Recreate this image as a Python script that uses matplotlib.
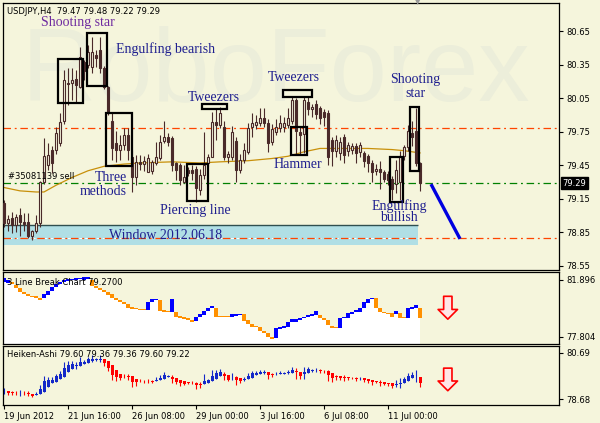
import numpy as np
import matplotlib
matplotlib.use('Agg')
import matplotlib.pyplot as plt
import matplotlib.transforms as mtransforms
from matplotlib.patches import Rectangle

plt.rcParams['font.family'] = ['DejaVu Sans']

# USDJPY H4 свечи (O, H, L, C)
opens = [79.11, 78.93, 78.98, 78.91, 79.00, 78.94, 78.94, 78.82, 78.86, 78.93,
         79.30, 79.45, 79.59, 79.59, 79.65, 79.85, 80.19, 80.19, 80.22, 80.15,
         80.37, 80.35, 80.33, 80.44, 80.48, 80.32, 80.15, 79.85, 79.65, 79.59,
         79.63, 79.72, 79.52, 79.34, 79.48, 79.46, 79.39, 79.40, 79.47, 79.51,
         79.67, 79.70, 79.69, 79.47, 79.45, 79.30, 79.41, 79.41, 79.42, 79.23,
         79.36, 79.47, 79.52, 79.84, 79.81, 79.79, 79.52, 79.52, 79.67, 79.41,
         79.50, 79.57, 79.79, 79.81, 79.83, 79.87, 79.83, 79.66, 79.75, 79.78,
         79.79, 79.81, 79.85, 80.03, 79.75, 79.73, 80.02, 79.95, 80.00, 79.96,
         79.93, 79.92, 79.68, 79.58, 79.56, 79.70, 79.58, 79.59, 79.62, 79.57,
         79.56, 79.53, 79.47, 79.40, 79.42, 79.39, 79.37, 79.33, 79.28, 79.30,
         79.53, 79.61, 79.74, 79.76, 79.47]
highs = [79.14, 79.00, 79.03, 79.01, 79.07, 79.02, 79.02, 78.87, 79.00, 79.31,
         79.69, 79.65, 79.62, 79.79, 79.92, 80.30, 80.32, 80.32, 80.30, 80.51,
         80.39, 80.53, 80.60, 80.48, 80.60, 80.34, 80.16, 79.92, 79.76, 79.72,
         79.78, 79.78, 79.59, 79.54, 79.54, 79.53, 79.55, 79.50, 79.66, 79.72,
         79.85, 79.74, 79.71, 79.48, 79.47, 79.45, 79.43, 79.45, 79.44, 79.42,
         79.75, 79.55, 79.93, 79.96, 79.97, 79.85, 79.58, 79.80, 79.70, 79.55,
         79.65, 79.83, 79.92, 79.90, 79.96, 79.96, 79.86, 79.82, 79.86, 79.90,
         79.88, 79.96, 80.06, 80.05, 79.79, 80.07, 80.06, 80.00, 80.03, 79.98,
         79.95, 79.94, 79.70, 79.72, 79.70, 79.73, 79.66, 79.65, 79.65, 79.66,
         79.58, 79.55, 79.50, 79.46, 79.49, 79.41, 79.40, 79.35, 79.50, 79.58,
         79.63, 79.81, 79.85, 79.96, 79.48]
lows = [78.90, 78.86, 78.84, 78.85, 78.82, 78.86, 78.80, 78.78, 78.84, 78.90,
        79.28, 79.41, 79.38, 79.55, 79.62, 79.82, 79.99, 80.03, 80.01, 80.14,
        80.21, 80.32, 80.28, 80.33, 80.28, 80.13, 79.90, 79.50, 79.48, 79.50,
        79.59, 79.50, 79.21, 79.27, 79.41, 79.40, 79.39, 79.37, 79.45, 79.50,
        79.65, 79.62, 79.40, 79.32, 79.27, 79.29, 79.35, 79.32, 79.12, 79.18,
        79.33, 79.44, 79.52, 79.68, 79.78, 79.50, 79.47, 79.50, 79.30, 79.38,
        79.47, 79.55, 79.70, 79.77, 79.80, 79.79, 79.57, 79.63, 79.72, 79.75,
        79.75, 79.78, 79.82, 79.54, 79.55, 79.56, 79.90, 79.88, 79.86, 79.82,
        79.80, 79.45, 79.44, 79.52, 79.50, 79.47, 79.53, 79.55, 79.47, 79.52,
        79.43, 79.39, 79.30, 79.36, 79.24, 79.30, 79.27, 79.14, 79.20, 79.14,
        79.50, 79.58, 79.62, 79.44, 79.22]
closes = [78.93, 78.97, 78.91, 78.99, 78.94, 78.92, 78.82, 78.86, 78.93, 79.30,
          79.53, 79.54, 79.47, 79.74, 79.84, 80.21, 80.18, 80.21, 80.17, 80.42,
          80.29, 80.46, 80.46, 80.41, 80.32, 80.15, 79.92, 79.60, 79.59, 79.63,
          79.72, 79.59, 79.34, 79.48, 79.46, 79.49, 79.51, 79.48, 79.52, 79.66,
          79.70, 79.66, 79.45, 79.41, 79.32, 79.34, 79.38, 79.38, 79.25, 79.36,
          79.45, 79.52, 79.84, 79.81, 79.92, 79.52, 79.55, 79.75, 79.41, 79.50,
          79.59, 79.78, 79.83, 79.84, 79.87, 79.83, 79.65, 79.77, 79.79, 79.83,
          79.83, 79.87, 80.03, 79.76, 79.72, 80.03, 79.95, 79.97, 79.91, 79.87,
          79.88, 79.52, 79.58, 79.68, 79.66, 79.54, 79.63, 79.62, 79.56, 79.63,
          79.49, 79.47, 79.39, 79.42, 79.39, 79.33, 79.32, 79.24, 79.41, 79.53,
          79.61, 79.76, 79.70, 79.47, 79.29]

# скользящая средняя (точки)
ma_idx = [0, 4, 8, 10, 13, 17, 21, 25, 30, 34, 42, 49, 54, 61, 67, 71, 75, 79, 85, 91, 97, 100, 104]
ma_val = [79.25, 79.22, 79.21, 79.21, 79.27, 79.34, 79.40, 79.44, 79.46, 79.47, 79.48, 79.47,
          79.48, 79.49, 79.51, 79.53, 79.57, 79.60, 79.60, 79.60, 79.59, 79.58, 79.56]

# 3 Line Break: верх/низ кирпича и направление
lb_hi = [82.04, 81.90, 81.75, 81.54, 81.32, 81.03, 80.89, 80.75, 80.75, 80.60,
         80.89, 81.11, 81.39, 81.61, 81.75, 81.90, 81.97, 81.97, 82.04, 82.04,
         82.11, 82.11, 81.90, 81.47, 81.32, 81.18, 81.03, 80.89, 80.60, 80.46,
         80.32, 80.17, 79.96, 79.89, 79.81, 79.81, 80.32, 80.53, 80.53, 80.46,
         79.74, 79.67, 80.53, 79.60, 79.31, 79.24, 79.17, 79.02, 79.24, 79.45,
         79.67, 79.89, 80.03, 79.89, 79.31, 79.31, 79.31, 79.45, 79.45, 79.45,
         79.45, 79.02, 78.74, 78.59, 78.53, 78.23, 78.09, 77.80, 78.45, 78.53,
         78.59, 78.88, 79.10, 79.10, 79.17, 79.24, 79.38, 79.45, 79.67, 79.38,
         79.17, 79.02, 78.59, 78.53, 79.17, 79.24, 79.53, 79.60, 79.74, 79.89,
         80.32, 80.53, 80.60, 80.60, 79.89, 79.60, 79.53, 79.53, 79.67, 79.53,
         79.24, 79.89, 79.96, 80.10, 79.89]
lb_lo = [81.75, 81.68, 81.61, 81.32, 81.03, 80.89, 80.75, 80.67, 80.60, 80.46,
         80.60, 80.82, 81.11, 81.39, 81.61, 81.75, 81.82, 81.90, 81.90, 81.97,
         81.90, 81.97, 81.47, 81.32, 81.18, 81.03, 80.82, 80.60, 80.46, 80.32,
         80.17, 79.89, 79.81, 79.81, 79.74, 79.74, 79.74, 80.32, 80.46, 79.67,
         79.60, 79.60, 79.60, 79.24, 79.17, 79.10, 79.02, 78.88, 78.95, 79.24,
         79.38, 79.67, 79.89, 79.24, 79.24, 79.24, 79.24, 79.24, 79.31, 79.38,
         78.95, 78.74, 78.53, 78.53, 78.23, 78.09, 77.80, 77.66, 77.73, 78.37,
         78.45, 78.53, 78.88, 78.88, 79.02, 79.17, 79.24, 79.31, 79.38, 79.17,
         79.02, 78.67, 78.45, 78.45, 78.45, 79.17, 79.17, 79.45, 79.60, 79.60,
         79.89, 80.25, 80.53, 79.89, 79.60, 79.53, 79.45, 79.24, 79.45, 79.17,
         79.17, 79.17, 79.81, 79.89, 79.17]
lb_up = "BBOOOOOOOOBBBBBBBBBBBBOOOOOOOOOOOOOOBBBOOOBOOOOOBBBBBOOOOBBBOOOOOOOOBBBBBBBBBBBOOOOOBBBBBBBBBOOOOOBOOBBBO"

# ось времени
time_pos = [0, 16, 32, 48, 64, 80, 96]
time_lbl = ['19 Jun 2012', '21 Jun 16:00', '26 Jun 08:00', '29 Jun 00:00',
            '3 Jul 16:00', '6 Jul 08:00', '11 Jul 00:00']

main_ticks = [80.65, 80.35, 80.05, 79.75, 79.45, 79.15, 78.85, 78.55]

# разметка паттернов: (x0, x1, низ, верх)
pattern_boxes = [(13.5, 19.75, 80.01, 80.40), (20.75, 25.75, 80.16, 80.63),
                 (25.5, 32.0, 79.44, 79.92), (45.75, 51.0, 79.13, 79.46),
                 (49.5, 55.75, 79.95, 80.00), (69.75, 77.0, 80.06, 80.12),
                 (71.75, 75.75, 79.54, 79.79), (96.5, 99.75, 79.12, 79.52),
                 (101.6, 103.75, 79.40, 79.97)]
pattern_text = [('Engulfing bearish', 40.5, 80.49), ('Tweezers', 52.5, 80.06),
                ('Tweezers', 72.5, 80.24), ('Shooting', 102.75, 80.22),
                ('star', 102.75, 80.09), ('Hammer', 73.5, 79.46),
                ('Three', 26.75, 79.34), ('methods', 24.75, 79.21),
                ('Piercing line', 47.75, 79.04), ('Engulfing', 98.75, 79.08),
                ('bullish', 98.75, 78.98), ('Window 2012.06.18', 40.5, 78.82)]

window_x = (-0.25, 103.5)
window_y = (78.735, 78.914)
resist_level = 79.785
support_level = 78.80
order_level = 79.29
fc_x = [106.75, 114.0]
fc_y = [79.28, 78.79]

BG = '#F5F5DC'
CANDLE = '#4A2A2A'
NAVY = '#1F1F8F'

fig = plt.figure(figsize=(6, 4.23), dpi=100, facecolor=BG)
ax1 = fig.add_axes([0.005, 0.3617, 0.9267, 0.6312], facecolor=BG)
ax2 = fig.add_axes([0.005, 0.1868, 0.9267, 0.169], facecolor=BG)
ax3 = fig.add_axes([0.005, 0.0414, 0.9267, 0.1395], facecolor=BG)

for ax in (ax1, ax2, ax3):
    ax.set_xlim(-0.25, 138.75)
    ax.yaxis.tick_right()
    ax.tick_params(axis='y', length=3, width=0.8, pad=2, labelsize=6, direction='out')
    ax.tick_params(axis='x', length=3, width=0.8, pad=2, labelsize=6, direction='out')
    for s in ax.spines.values():
        s.set_linewidth(0.9)
    ax.set_xticks([])

o = np.array(opens); h = np.array(highs); l = np.array(lows); c = np.array(closes)
idx = np.arange(len(c))

# --- основной график ---
ax1.set_ylim(78.511, 80.903)
ax1.set_yticks(main_ticks)
ax1.set_yticklabels(['%.2f' % v for v in main_ticks])

# водяной знак
ax1.text(0.034, 0.634, 'RoboForex', transform=ax1.transAxes, fontsize=74,
         family='Liberation Sans', color='#ECEEDA', ha='left', va='baseline', zorder=0.5)

ax1.add_patch(Rectangle((window_x[0], window_y[0]), window_x[1] - window_x[0],
                        window_y[1] - window_y[0], fc='#B0DFE5', ec='none', zorder=1))
ax1.hlines(window_y[1], window_x[0], window_x[1], colors='#2F4F4F', lw=1, zorder=1.5)
ax1.hlines(support_level - 0.005, window_x[0], window_x[1], colors='white', lw=0.7,
           linestyles=(0, (3, 3)), zorder=1.6)
ax1.axhline(resist_level, color='#FF4500', lw=0.9, ls=(0, (6, 3, 1.5, 3)), zorder=2)
ax1.axhline(support_level, color='#FF4500', lw=0.9, ls=(0, (6, 3, 1.5, 3)), zorder=2)
ax1.axhline(order_level, color='#008000', lw=0.9, ls=(0, (6, 3, 1.5, 3)), zorder=2)
ax1.plot(ma_idx, ma_val, color='#C8900A', lw=0.9, zorder=2.5)

up = c >= o
body_lo = np.minimum(o, c)
body_h = np.maximum(np.abs(c - o), 0.008)
ax1.vlines(idx, l, h, colors=CANDLE, lw=0.8, zorder=3)
ax1.bar(idx[up], body_h[up], bottom=body_lo[up], width=0.7, facecolor=BG,
        edgecolor=CANDLE, linewidth=0.8, zorder=4)
ax1.bar(idx[~up], body_h[~up], bottom=body_lo[~up], width=0.7, facecolor=CANDLE,
        edgecolor=CANDLE, linewidth=0.8, zorder=4)

for x0, x1, y0, y1 in pattern_boxes:
    ax1.add_patch(Rectangle((x0, y0), x1 - x0, y1 - y0, fill=False, ec='black', lw=1.6, zorder=5))

ax1.text(18.5, 80.73, 'Shooting star', family='Liberation Serif', fontsize=10,
         color='#6E2AA0', ha='center', va='center', zorder=6)
for txt, x, y in pattern_text:
    ax1.text(x, y, txt, family='Liberation Serif', fontsize=10, color=NAVY,
             ha='center', va='center', zorder=6)

ax1.plot(fc_x, fc_y, color='#0000E0', lw=2.4, solid_capstyle='butt', zorder=6)

ax1.text(0.008, 0.985, 'USDJPY,H4  79.47 79.48 79.22 79.29', transform=ax1.transAxes,
         fontsize=6, va='top', ha='left', zorder=7)
ax1.text(1.0, 79.35, '#35081139 sell', fontsize=6, ha='left', va='center', zorder=7)
tr = mtransforms.blended_transform_factory(ax1.transAxes, ax1.transData)
ax1.text(1.006, order_level, '79.29', transform=tr, fontsize=6, color='white',
         ha='left', va='center', bbox=dict(fc='black', ec='black', pad=1.2), zorder=8)

fig.text(418 / 600, 1 - 2.5 / 423, '\u25bc', color='#999999', fontsize=5, ha='center', va='center')

# --- 3 Line Break ---
ax2.set_ylim(77.30, 82.43)
ax2.set_yticks([81.896, 77.804])
ax2.set_yticklabels(['81.896', '77.804'])
lb_hi_a = np.array(lb_hi); lb_lo_a = np.array(lb_lo)
ax2.fill_between(idx, lb_lo_a, 77.30, step='mid', color='white', lw=0, zorder=1)
lb_col = ['#0000FF' if s == 'B' else '#FF9000' for s in lb_up]
ax2.bar(idx, lb_hi_a - lb_lo_a, bottom=lb_lo_a, width=0.9, color=lb_col, zorder=2)
ax2.text(0.007, 0.867, '3 Line Break Chart 79.2700', transform=ax2.transAxes,
         fontsize=6, va='center', ha='left', zorder=3)

# --- Heiken-Ashi ---
ha_c = (o + h + l + c) / 4
ha_o = np.empty_like(ha_c)
ha_o[0] = (o[0] + c[0]) / 2
for i in range(1, len(ha_c)):
    ha_o[i] = (ha_o[i - 1] + ha_c[i - 1]) / 2
ha_h = np.maximum(h, np.maximum(ha_o, ha_c))
ha_l = np.minimum(l, np.minimum(ha_o, ha_c))
ha_col = np.where(ha_c >= ha_o, '#1428C8', '#FF0000')
ax3.set_ylim(78.40, 80.97)
ax3.set_yticks([80.69, 78.68])
ax3.set_yticklabels(['80.69', '78.68'])
ax3.vlines(idx, ha_l, ha_h, colors=ha_col, lw=0.8, zorder=2)
ax3.bar(idx, np.maximum(np.abs(ha_c - ha_o), 0.01), bottom=np.minimum(ha_o, ha_c),
        width=0.75, color=ha_col, zorder=3)
ax3.text(0.007, 0.856, 'Heiken-Ashi 79.60 79.36 79.36 79.60 79.22', transform=ax3.transAxes,
         fontsize=6, va='center', ha='left', zorder=4)

ax3.set_xticks(time_pos)
ax3.set_xticklabels(time_lbl)
for lbl in ax3.get_xticklabels():
    lbl.set_ha('left')

# красные стрелки вниз
for ax, y0, y1 in ((ax2, 0.667, 0.347), (ax3, 0.633, 0.25)):
    ax.annotate('', xy=(0.80, y1), xytext=(0.80, y0), xycoords='axes fraction',
                arrowprops=dict(arrowstyle='simple,head_length=0.7,head_width=1.4,tail_width=0.6',
                                fc='#FFE6E6', ec='#FF0000', lw=1.2, mutation_scale=10,
                                shrinkA=0, shrinkB=0))

fig.savefig('out.png', dpi=100, facecolor=BG)
